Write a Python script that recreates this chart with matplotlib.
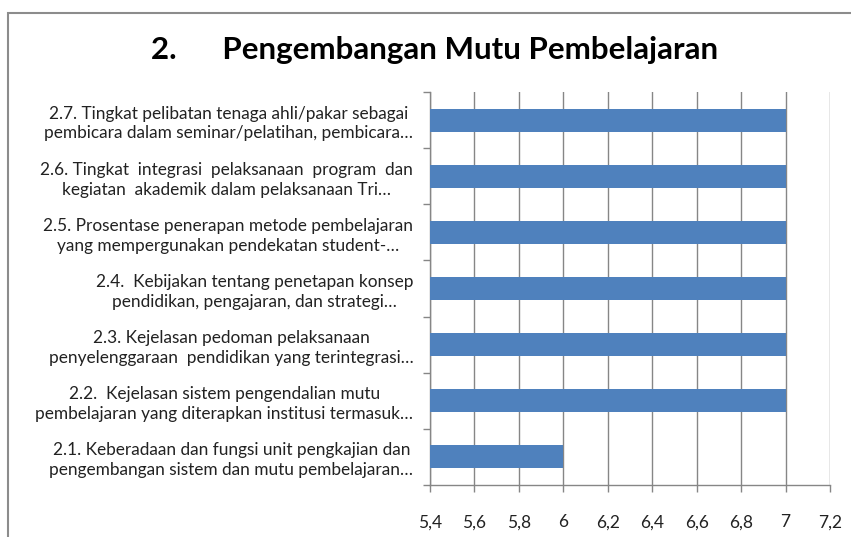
import matplotlib.pyplot as plt
from matplotlib.patches import Rectangle
from matplotlib.ticker import FixedLocator, FuncFormatter
import numpy as np

plt.rcParams['font.family'] = ['Lato', 'DejaVu Sans']

labels = [
    "2.1. Keberadaan dan fungsi unit pengkajian dan\npengembangan sistem dan mutu pembelajaran…",
    "2.2.  Kejelasan sistem pengendalian mutu\npembelajaran yang diterapkan institusi termasuk…",
    "2.3. Kejelasan pedoman pelaksanaan\npenyelenggaraan  pendidikan yang terintegrasi…",
    "2.4.  Kebijakan tentang penetapan konsep\npendidikan, pengajaran, dan strategi…",
    "2.5. Prosentase penerapan metode pembelajaran\nyang mempergunakan pendekatan student-…",
    "2.6. Tingkat  integrasi  pelaksanaan  program  dan\nkegiatan  akademik dalam pelaksanaan Tri…",
    "2.7. Tingkat pelibatan tenaga ahli/pakar sebagai\npembicara dalam seminar/pelatihan, pembicara…",
]
values = [6, 7, 7, 7, 7, 7, 7]
x_ticks = [5.4, 5.6, 5.8, 6.0, 6.2, 6.4, 6.6, 6.8, 7.0, 7.2]

W, H = 851, 537
fig = plt.figure(figsize=(W / 100, H / 100), dpi=100)
ax = fig.add_axes([430 / W, 1 - 485 / H, 400 / W, (485 - 92) / H])

y = np.arange(len(values))
ax.barh(y, [v - 5.4 for v in values], left=5.4, height=0.41, color='#4F81BD', zorder=3)

ax.set_xlim(5.4, 7.2)
ax.set_ylim(-0.5, len(values) - 0.5)
ax.set_xticks(x_ticks)
ax.xaxis.set_major_formatter(FuncFormatter(lambda v, p: ('%g' % round(v, 1)).replace('.', ',')))
ax.grid(axis='x', color='#868686', linewidth=1, zorder=0)

ax.set_yticks(y)
ax.set_yticklabels(labels, fontsize=12.4, ha='right', multialignment='center',
                   color='#222222', linespacing=1.3)
ax.yaxis.set_minor_locator(FixedLocator(np.arange(-0.5, len(values), 1.0)))
ax.tick_params(axis='y', which='major', length=0, pad=12)
ax.tick_params(axis='y', which='minor', length=5, color='#868686', width=1)
ax.tick_params(axis='x', length=5, color='#868686', width=1, labelsize=12.5, pad=16, labelcolor='#222222')

for s in ['top', 'right']:
    ax.spines[s].set_visible(False)
for s in ['left', 'bottom']:
    ax.spines[s].set_color('#868686')
    ax.spines[s].set_linewidth(1)

fig.text(435 / W, 1 - 50 / H, "2.      Pengembangan Mutu Pembelajaran",
         ha='center', va='center', fontsize=22.5, fontweight='bold')

fig.patches.append(Rectangle((8 / W, -0.1), 1.2, 1 - 13 / H + 0.1,
                             transform=fig.transFigure, fill=False,
                             edgecolor='#8c8c8c', linewidth=1.5))

fig.savefig('out.png', dpi=100)
